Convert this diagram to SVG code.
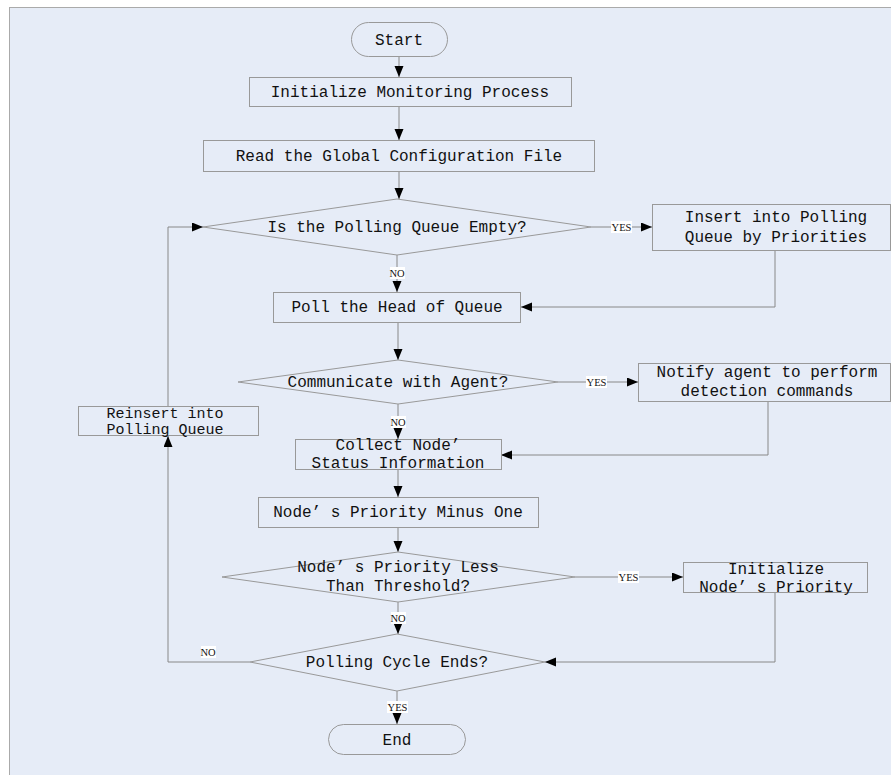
<svg xmlns="http://www.w3.org/2000/svg" width="891" height="775" viewBox="0 0 891 775">
<style>
.shape{fill:none;stroke:#999;stroke-width:1}
.t{font-family:"Liberation Mono",monospace;font-size:16px;fill:#111;text-anchor:middle}
.lbl{font-family:"Liberation Serif",serif;font-size:10.5px;fill:#111;text-anchor:middle}
.lb{fill:#fff}
.c{fill:none;stroke:#888;stroke-width:1}
.ca{fill:none;stroke:#888;stroke-width:1;marker-end:url(#ah)}
</style>
<defs>
<marker id="ah" markerUnits="userSpaceOnUse" markerWidth="12" markerHeight="10" refX="11" refY="4.5" orient="auto">
<path d="M0,0 L11,4.5 L0,9 z" fill="#000"/>
</marker>
</defs>
<rect x="0" y="0" width="891" height="775" fill="#fff"/>
<rect x="9.5" y="7.5" width="890" height="780" fill="#e6ecf7" stroke="#aaa" stroke-width="1"/>

<g id="connectors">
<line class="ca" x1="399" y1="57" x2="399" y2="77"/>
<line class="ca" x1="399" y1="107" x2="399" y2="140"/>
<line class="ca" x1="399" y1="171" x2="399" y2="199"/>
<line class="ca" x1="397" y1="255" x2="397" y2="292"/>
<line class="ca" x1="591" y1="227" x2="652" y2="227"/>
<polyline class="ca" points="775,250 775,307 521,307"/>
<line class="ca" x1="398" y1="322" x2="398" y2="360"/>
<line class="ca" x1="558" y1="382" x2="638" y2="382"/>
<line class="ca" x1="398" y1="404" x2="398" y2="439"/>
<polyline class="ca" points="768,401 768,455 501,455"/>
<line class="ca" x1="398" y1="469" x2="398" y2="497"/>
<line class="ca" x1="398" y1="527" x2="398" y2="552"/>
<line class="ca" x1="575" y1="577" x2="683" y2="577"/>
<line class="ca" x1="398" y1="602" x2="398" y2="634"/>
<polyline class="ca" points="775,592 775,662 545,662"/>
<polyline class="ca" points="250,662 168,662 168,436"/>
<polyline class="ca" points="168,406 168,227 203,227"/>
<line class="ca" x1="397" y1="691" x2="397" y2="724"/>
<rect class="lb" x="611" y="221" width="21" height="12"/>
<text class="lbl" x="621.5" y="231">YES</text>
<rect class="lb" x="390" y="267" width="15" height="12"/>
<text class="lbl" x="397" y="277">NO</text>
<rect class="lb" x="586" y="376" width="21" height="12"/>
<text class="lbl" x="596.5" y="386">YES</text>
<rect class="lb" x="391" y="416" width="15" height="12"/>
<text class="lbl" x="398" y="426">NO</text>
<rect class="lb" x="618" y="571" width="21" height="12"/>
<text class="lbl" x="628.5" y="581">YES</text>
<rect class="lb" x="391" y="612" width="15" height="12"/>
<text class="lbl" x="398" y="622">NO</text>
<rect class="lb" x="201" y="646" width="15" height="12"/>
<text class="lbl" x="208" y="656">NO</text>
<rect class="lb" x="387" y="701" width="21" height="12"/>
<text class="lbl" x="397.5" y="711">YES</text>
</g>

<g id="start">
<rect class="shape" x="351.5" y="22.5" width="96" height="34" rx="17"/>
<text class="t" x="399" y="45">Start</text>
</g>
<g id="init">
<rect class="shape" x="249.5" y="77.5" width="322" height="29"/>
<text class="t" x="410" y="97">Initialize Monitoring Process</text>
</g>
<g id="readcfg">
<rect class="shape" x="203.5" y="140.5" width="391" height="31"/>
<text class="t" x="399" y="161">Read the Global Configuration File</text>
</g>
<g id="queueEmpty">
<polygon class="shape" points="397,199 591,227 397,255 203,227"/>
<text class="t" x="397" y="232">Is the Polling Queue Empty?</text>
</g>
<g id="insert">
<rect class="shape" x="652.5" y="204.5" width="238" height="46"/>
<text class="t" x="776" y="222">Insert into Polling</text>
<text class="t" x="776" y="242">Queue by Priorities</text>
</g>
<g id="poll">
<rect class="shape" x="273.5" y="292.5" width="247" height="30"/>
<text class="t" x="397" y="312">Poll the Head of Queue</text>
</g>
<g id="communicate">
<polygon class="shape" points="398,360 558,382 398,404 238,382"/>
<text class="t" x="398" y="387">Communicate with Agent?</text>
</g>
<g id="notify">
<rect class="shape" x="638.5" y="363.5" width="252" height="38"/>
<text class="t" x="767" y="377">Notify agent to perform</text>
<text class="t" x="767" y="396">detection commands</text>
</g>
<g id="reinsert">
<rect class="shape" x="78.5" y="406.5" width="180" height="29"/>
<text class="t" x="165" y="418" style="font-size:15px">Reinsert into</text>
<text class="t" x="165" y="434" style="font-size:15px">Polling Queue</text>
</g>
<g id="collect">
<rect class="shape" x="295.5" y="439.5" width="206" height="30"/>
<text class="t" x="398" y="450">Collect Node’</text>
<text class="t" x="398" y="468">Status Information</text>
</g>
<g id="minus">
<rect class="shape" x="258.5" y="497.5" width="280" height="30"/>
<text class="t" x="398" y="517">Node’ s Priority Minus One</text>
</g>
<g id="threshold">
<polygon class="shape" points="398,552 575,577 398,602 222,577"/>
<text class="t" x="398" y="572">Node’ s Priority Less</text>
<text class="t" x="398" y="591">Than Threshold?</text>
</g>
<g id="initprio">
<rect class="shape" x="683.5" y="562.5" width="184" height="30"/>
<text class="t" x="776" y="574">Initialize</text>
<text class="t" x="776" y="592">Node’ s Priority</text>
</g>
<g id="cycle">
<polygon class="shape" points="397,634 545,662 397,691 250,662"/>
<text class="t" x="397" y="667">Polling Cycle Ends?</text>
</g>
<g id="end">
<rect class="shape" x="328.5" y="724.5" width="137" height="30" rx="15"/>
<text class="t" x="397" y="745">End</text>
</g>
</svg>
